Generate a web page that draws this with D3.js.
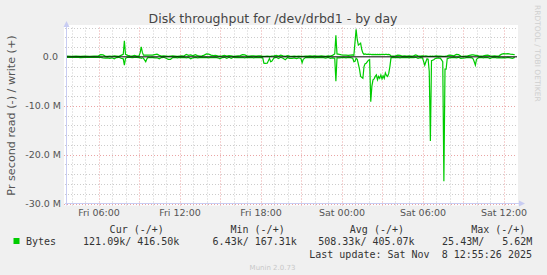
<!DOCTYPE html>
<html lang="en">
<head>
<meta charset="utf-8">
<title>Disk throughput for /dev/drbd1 - by day</title>
<script src="https://cdn.jsdelivr.net/npm/d3@7"></script>
<style type="text/css">
  body { margin: 0; background: #f0f0f0; }
  svg { display: block; }
  .axis text { font-family: "DejaVu Sans", sans-serif; font-size: 9.5px; fill: #555; }
  .axis path, .axis line { display: none; }
  .legend text { font-family: "DejaVu Sans Mono", monospace; font-size: 10px; fill: #333; white-space: pre; }
</style>
</head>
<body>
<script type="text/javascript">
// sample times (day of Nov 2025 + time), 5-min averages
var times = [
  "07 03:40","07 04:00","07 04:20","07 04:40","07 05:00","07 05:20","07 05:40","07 06:00","07 06:10","07 06:20",
  "07 06:30","07 06:40","07 06:50","07 07:00","07 07:10","07 07:20","07 07:30","07 07:40","07 07:50","07 07:55",
  "07 08:00","07 08:10","07 08:20","07 08:30","07 08:40","07 08:50","07 09:00","07 09:05","07 09:10","07 09:15",
  "07 09:20","07 09:30","07 09:35","07 09:40","07 09:50","07 10:00","07 10:10","07 10:20","07 10:30","07 10:40",
  "07 10:50","07 11:00","07 11:10","07 11:20","07 11:30","07 11:40","07 11:50","07 12:00","07 12:10","07 12:20",
  "07 12:30","07 12:40","07 12:50","07 13:00","07 13:10","07 13:20","07 13:30","07 13:40","07 13:50","07 14:00",
  "07 14:10","07 14:20","07 14:30","07 14:40","07 14:50","07 15:00","07 15:10","07 15:20","07 15:30","07 15:40",
  "07 15:50","07 16:00","07 16:10","07 16:20","07 16:30","07 16:40","07 16:50","07 17:00","07 17:10","07 17:20",
  "07 17:30","07 17:40","07 17:50","07 18:00","07 18:10","07 18:15","07 18:20","07 18:30","07 18:40","07 18:45",
  "07 18:50","07 19:00","07 19:10","07 19:20","07 19:30","07 19:40","07 19:50","07 20:00","07 20:10","07 20:20",
  "07 20:30","07 20:40","07 20:50","07 21:00","07 21:05","07 21:10","07 21:20","07 21:30","07 21:40","07 21:50",
  "07 22:00","07 22:10","07 22:20","07 22:30","07 22:40","07 22:50","07 23:00","07 23:10","07 23:20","07 23:30",
  "07 23:35","07 23:40","07 23:50",
  "08 00:00","08 00:10","08 00:20","08 00:30","08 00:40","08 00:50","08 00:55","08 01:00","08 01:05","08 01:10",
  "08 01:15","08 01:20","08 01:25","08 01:30","08 01:35","08 01:40","08 01:45","08 01:50","08 01:55","08 02:00",
  "08 02:05","08 02:10","08 02:15","08 02:20","08 02:25","08 02:30","08 02:35","08 02:40","08 02:45","08 02:50",
  "08 02:55","08 03:00","08 03:05","08 03:10","08 03:15","08 03:20","08 03:25","08 03:30","08 03:35","08 03:40",
  "08 03:50","08 04:00","08 04:10","08 04:20","08 04:30","08 04:40","08 04:50","08 05:00","08 05:10","08 05:20",
  "08 05:30","08 05:40","08 05:50","08 06:00","08 06:10","08 06:15","08 06:20","08 06:25","08 06:30","08 06:35",
  "08 06:40","08 06:45","08 06:50","08 06:55","08 07:00","08 07:10","08 07:20","08 07:30","08 07:35","08 07:40",
  "08 07:45","08 07:50","08 07:55","08 08:00","08 08:10","08 08:20","08 08:30","08 08:40","08 08:50","08 09:00",
  "08 09:10","08 09:20","08 09:30","08 09:40","08 09:45","08 09:50","08 09:55","08 10:00","08 10:10","08 10:20",
  "08 10:30","08 10:40","08 10:50","08 11:00","08 11:10","08 11:20","08 11:30","08 11:40","08 11:50","08 12:00",
  "08 12:10","08 12:20","08 12:30","08 12:40","08 12:50"
];
// write bytes/s (MB), drawn above zero
var writeVals = [
  .15,.12,.15,.10,.15,.12,.15,.20,.45,.40,
  .15,.10,.15,.12,.20,.15,.10,.30,.50,3.30,
  .50,.30,.20,.15,.30,.15,.20,.80,2.05,.90,
  .35,.35,.35,.35,.35,.35,.45,.55,.30,.15,
  .20,.15,.10,.15,.20,.15,.10,.15,.20,.15,
  .50,.30,.40,.20,.45,.25,.15,.20,.35,.60,
  .55,.35,.25,.30,.20,.15,.20,.30,.15,.25,
  .20,.10,.15,.20,.25,.45,.40,.20,.15,.20,
  .20,.15,.20,.20,.10,.10,.10,.15,.10,.10,
  .15,.20,.30,.15,.35,.20,.10,.25,.15,.10,
  .15,.10,.15,.10,.10,.10,.15,.15,.20,.15,
  .20,.15,.15,.20,.15,.10,.20,.15,.30,.60,
  4.40,.60,.50,
  .40,.35,.35,.30,.35,.40,.30,3.00,5.62,3.50,
  2.40,2.60,2.80,1.50,.80,.50,.60,.50,.50,.55,
  .50,.50,.45,.50,.45,.50,.45,.50,.45,.50,
  .45,.50,.50,.45,.50,.50,.45,.50,.40,.20,
  .15,.20,.35,.30,.15,.20,.15,.20,.15,.20,
  .40,.20,.15,.20,.15,.20,.15,.10,.10,.15,
  .10,.15,.10,.15,.20,.15,.15,.10,.10,.10,
  .15,.20,.30,.35,.30,.20,.50,.45,.15,.10,
  .15,.20,.30,.40,.40,.35,.30,.30,.20,.15,
  .20,.30,.35,.20,.15,.20,.15,.20,.50,.65,
  .60,.65,.55,.50,.42
];
// read bytes/s (MB), drawn below zero
var readVals = [
  .10,.12,.08,.15,.10,.12,.10,.10,.10,.20,
  .25,.20,.30,.20,.40,.15,.10,.30,.40,1.70,
  .30,.10,.10,.15,.10,.10,.15,.20,.30,.20,
  .30,1.00,.40,.10,.15,.10,.20,.20,.40,.15,
  .10,.30,.50,.50,.15,.10,.20,.10,.15,.10,
  .20,.10,.40,.20,.10,.20,.15,.10,.15,.10,
  .20,.10,.15,.10,.20,.40,.15,.10,.30,.10,
  .30,.10,.15,.10,.15,.10,.20,.10,.15,.10,
  .20,.10,.15,.10,.20,1.30,1.35,1.30,.30,1.00,
  .90,.20,.10,.35,.10,.30,.60,.15,.30,.30,
  .20,.35,.20,.40,1.20,.50,.15,.10,.15,.10,
  .20,.10,.15,.10,.15,.25,.10,.30,.20,.30,
  5.00,.20,.20,
  .15,.10,.20,.10,.15,.30,1.00,.90,.30,.50,
  1.50,2.50,4.00,4.20,4.40,2.00,1.40,1.30,1.00,.70,
  .60,9.20,6.00,4.70,4.50,4.00,3.70,4.70,4.00,4.40,
  3.70,4.50,3.90,4.40,3.30,3.80,4.00,3.40,2.00,.20,
  .10,.15,.10,.20,.10,.15,.10,.20,.10,.15,
  .10,.30,.15,.20,1.70,1.00,.40,.50,3.00,17.20,
  .80,.70,.60,.40,.30,.20,.30,1.00,25.43,2.50,
  2.50,.30,.30,.20,.15,.10,.20,.10,.30,.25,
  .20,.10,.15,.20,.40,1.00,1.70,.50,.15,.10,
  .20,.10,.15,.35,.15,.10,.20,.15,.20,.15,
  .20,.10,.20,.30,.12
];

var yTickValues = [-30, -20, -10, 0];
var yTickLabels = ["-30.0 M", "-20.0 M", "-10.0 M", "0.0 "];
var legendHeaders = ["Cur (-/+)", "Min (-/+)", "Avg (-/+)", "Max (-/+)"];
var legendValues = ["121.09k/ 416.50k", "6.43k/ 167.31k", "508.33k/ 405.07k", "25.43M/   5.62M"];

var w = 547, h = 275;
var parseTime = d3.timeParse("%Y-%m-%d %H:%M");
var toDate = function(t) { return parseTime("2025-11-" + t); };

var data = times.map(function(t, i) {
  return { t: toDate(t), write: writeVals[i], read: -readVals[i] };
});

var plotL = 67, plotR = 517, plotT = 27.5, plotB = 203.5;

var xScale = d3.scaleTime()
  .domain([toDate("07 03:40"), toDate("08 13:00")])
  .range([plotL, plotR]);
var yScale = d3.scaleLinear()
  .domain([-30, 6])
  .range([plotB, plotT]);

var svg = d3.select("body").append("svg")
  .attr("width", w)
  .attr("height", h);

// canvas
svg.append("rect")
  .attr("x", 64).attr("y", 25)
  .attr("width", plotR - 64 + 1).attr("height", plotB - 25 + 2)
  .attr("fill", "white");

// grid: minor and major
var hours = d3.timeHour.every(1).range(xScale.domain()[0], xScale.domain()[1]);
var minorX = hours.filter(function(d) { return d.getHours() % 3 != 0; });
var majorX = hours.filter(function(d) { return d.getHours() % 3 == 0; });
var minorY = d3.range(-28, 7, 2).filter(function(v) { return v % 10 != 0; });
var majorY = [-30, -20, -10];

svg.selectAll("line.minx").data(minorX).enter().append("line")
  .attr("x1", function(d) { return Math.round(xScale(d)) + 0.5; })
  .attr("x2", function(d) { return Math.round(xScale(d)) + 0.5; })
  .attr("y1", plotT).attr("y2", plotB + 2)
  .attr("stroke", "#cccccc").attr("stroke-dasharray", "1,2");
svg.selectAll("line.miny").data(minorY).enter().append("line")
  .attr("x1", plotL - 2).attr("x2", plotR)
  .attr("y1", function(d) { return Math.round(yScale(d)) + 0.5; })
  .attr("y2", function(d) { return Math.round(yScale(d)) + 0.5; })
  .attr("stroke", "#cccccc").attr("stroke-dasharray", "1,2");
svg.selectAll("line.majx").data(majorX).enter().append("line")
  .attr("x1", function(d) { return Math.round(xScale(d)) + 0.5; })
  .attr("x2", function(d) { return Math.round(xScale(d)) + 0.5; })
  .attr("y1", plotT).attr("y2", plotB + 3)
  .attr("stroke", "#eaa4a4").attr("stroke-dasharray", "1,2");
svg.selectAll("line.majy").data(majorY).enter().append("line")
  .attr("x1", plotL - 3).attr("x2", plotR)
  .attr("y1", function(d) { return Math.round(yScale(d)) + 0.5; })
  .attr("y2", function(d) { return Math.round(yScale(d)) + 0.5; })
  .attr("stroke", "#eaa4a4").attr("stroke-dasharray", "1,2");

// axes lines with arrows
var axisColor = "#c8ccf2";
svg.append("line")
  .attr("x1", plotL - 0.5).attr("x2", plotL - 0.5)
  .attr("y1", plotB + 2).attr("y2", 24)
  .attr("stroke", axisColor);
svg.append("path")
  .attr("d", "M" + (plotL - 3.5) + ",27 L" + (plotL - 0.5) + ",21 L" + (plotL + 2.5) + ",27 Z")
  .attr("fill", axisColor);
svg.append("line")
  .attr("x1", plotL - 2).attr("x2", plotR + 4)
  .attr("y1", plotB).attr("y2", plotB)
  .attr("stroke", axisColor);
svg.append("path")
  .attr("d", "M" + (plotR + 2) + "," + (plotB - 3) + " L" + (plotR + 8) + "," + plotB + " L" + (plotR + 2) + "," + (plotB + 3) + " Z")
  .attr("fill", axisColor);

// data lines
var writeLine = d3.line()
  .x(function(d) { return xScale(d.t); })
  .y(function(d) { return yScale(d.write); });
var readLine = d3.line()
  .x(function(d) { return xScale(d.t); })
  .y(function(d) { return yScale(d.read); });

svg.append("path").datum(data)
  .attr("d", readLine)
  .attr("fill", "none").attr("stroke", "#00cc00").attr("stroke-width", 1.2);
svg.append("path").datum(data)
  .attr("d", writeLine)
  .attr("fill", "none").attr("stroke", "#00cc00").attr("stroke-width", 1.2);

// zero line
svg.append("line")
  .attr("x1", plotL).attr("x2", plotR)
  .attr("y1", yScale(0)).attr("y2", yScale(0))
  .attr("stroke", "black").attr("stroke-width", 1);

// y axis labels
var yAxis = d3.axisLeft(yScale)
  .tickValues(yTickValues)
  .tickFormat(function(d, i) { return yTickLabels[i]; })
  .tickSize(0).tickPadding(0);
svg.append("g")
  .attr("class", "axis")
  .attr("transform", "translate(" + (plotL - 6) + ",0)")
  .call(yAxis)
  .selectAll("text").style("white-space", "pre");

// x axis labels
var xTicks = d3.timeHour.every(6).range(xScale.domain()[0], xScale.domain()[1]);
var xAxis = d3.axisBottom(xScale)
  .tickValues(xTicks)
  .tickFormat(d3.timeFormat("%a %H:%M"))
  .tickSize(0).tickPadding(0);
svg.append("g")
  .attr("class", "axis")
  .attr("transform", "translate(0," + (plotB + 6) + ")")
  .call(xAxis);

// title
svg.append("text")
  .attr("x", 273).attr("y", 23)
  .attr("text-anchor", "middle")
  .attr("font-family", "DejaVu Sans, sans-serif")
  .attr("font-size", "12.5px")
  .attr("fill", "#444")
  .text("Disk throughput for /dev/drbd1 - by day");

// vertical label
svg.append("text")
  .attr("transform", "translate(14.5," + ((plotT + plotB) / 2) + ") rotate(-90)")
  .attr("text-anchor", "middle")
  .attr("font-family", "DejaVu Sans, sans-serif")
  .attr("font-size", "11.2px")
  .attr("fill", "#555")
  .text("Pr second read (-) / write (+)");

// rrdtool watermark
svg.append("text")
  .attr("transform", "translate(534.5,5) rotate(90)")
  .attr("font-family", "DejaVu Sans, sans-serif")
  .attr("font-size", "7.5px")
  .attr("fill", "#cfcfcf")
  .text("RRDTOOL / TOBI OETIKER");

// legend
var legend = svg.append("g").attr("class", "legend");
var headerEnds = [163.8, 284.7, 404, 525.4];
var valueEnds = [179.4, 296.9, 414.6, 532.4];
legend.selectAll("text.hdr").data(legendHeaders).enter().append("text")
  .attr("x", function(d, i) { return headerEnds[i]; })
  .attr("y", 232.5)
  .attr("text-anchor", "end")
  .text(function(d) { return d; });
legend.selectAll("text.val").data(legendValues).enter().append("text")
  .attr("x", function(d, i) { return valueEnds[i]; })
  .attr("y", 245)
  .attr("text-anchor", "end")
  .text(function(d) { return d; });
legend.append("rect")
  .attr("x", 13.5).attr("y", 238)
  .attr("width", 6).attr("height", 6)
  .attr("fill", "#00cc00");
legend.append("text")
  .attr("x", 26).attr("y", 245)
  .text("Bytes");
legend.append("text")
  .attr("x", 532).attr("y", 257.5)
  .attr("text-anchor", "end")
  .text("Last update: Sat Nov  8 12:55:26 2025");

svg.append("text")
  .attr("x", 272.5).attr("y", 270)
  .attr("text-anchor", "middle")
  .attr("font-family", "DejaVu Sans, sans-serif")
  .attr("font-size", "7px")
  .attr("fill", "#c8c8c8")
  .text("Munin 2.0.73");
</script>
</body>
</html>
